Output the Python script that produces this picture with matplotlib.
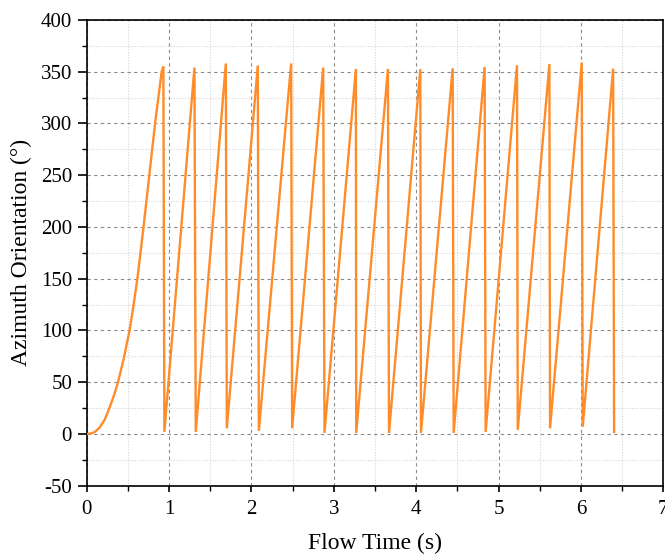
import matplotlib
matplotlib.use("Agg")
import matplotlib.pyplot as plt
from matplotlib.ticker import MultipleLocator

# Initial spin-up curve (time s, azimuth deg)
ramp_t = [0.0, 0.05, 0.10, 0.16, 0.22, 0.28, 0.33, 0.38, 0.45, 0.52, 0.57, 0.615, 0.65, 0.69, 0.76, 0.83, 0.91, 0.931]
ramp_v = [0.0, 0.4, 2.0, 6.5, 14.0, 26.0, 37.0, 50.0, 73.0, 100.0, 125.0, 150.0, 173.0, 200.0, 250.0, 300.0, 350.0, 355.0]

# Sawtooth: resets (after each peak) and following peaks
reset_t = [0.943, 1.324, 1.701, 2.090, 2.494, 2.887, 3.272, 3.670, 4.058, 4.455, 4.843, 5.233, 5.625, 6.022, 6.403]
reset_v = [2.0, 2.0, 5.5, 3.0, 5.5, 1.0, 1.0, 1.0, 1.0, 1.0, 2.0, 4.0, 5.5, 7.0, 2.0]
peak_t = [1.308, 1.689, 2.077, 2.482, 2.871, 3.268, 3.657, 4.050, 4.443, 4.831, 5.224, 5.617, 6.010, 6.391]
peak_v = [354.0, 358.0, 356.0, 358.0, 354.0, 352.7, 352.7, 352.5, 353.3, 354.6, 356.2, 357.5, 359.0, 353.0]

t = list(ramp_t)
v = list(ramp_v)
for i in range(len(reset_t)):
    t.append(reset_t[i]); v.append(reset_v[i])
    if i < len(peak_t):
        t.append(peak_t[i]); v.append(peak_v[i])

plt.rcParams['font.family'] = ['Liberation Serif', 'DejaVu Serif']
plt.rcParams['axes.unicode_minus'] = False

fig = plt.figure(figsize=(6.65, 5.56), dpi=100)
ax = fig.add_axes([86.7/665, 1-485.7/556, (663.3-86.7)/665, (485.7-20)/556])

ax.plot(t, v, color='#FF8C2A', lw=1.7, solid_joinstyle='miter', zorder=3)

ax.set_xlim(0, 7)
ax.set_ylim(-50, 400)
ax.xaxis.set_major_locator(MultipleLocator(1))
ax.xaxis.set_minor_locator(MultipleLocator(0.5))
ax.yaxis.set_major_locator(MultipleLocator(50))
ax.yaxis.set_minor_locator(MultipleLocator(25))

ax.grid(which='major', color='#8a8a8a', linestyle=(0, (3, 3)), linewidth=0.8)
ax.grid(which='minor', color='#d4d4d4', linestyle=(0, (1, 1.5)), linewidth=0.8)
ax.set_axisbelow(True)

for s in ax.spines.values():
    s.set_linewidth(1.2)
    s.set_color('black')

ax.tick_params(axis='y', which='major', direction='out', length=6.5, width=1.2, labelsize=15, pad=4)
ax.tick_params(axis='y', which='minor', direction='out', length=3.6, width=1.0)
ax.tick_params(axis='x', which='major', direction='out', length=4.5, width=1.2, labelsize=15, pad=6)
ax.tick_params(axis='x', which='minor', direction='out', length=3.6, width=1.0)

ax.set_xlabel('Flow Time (s)', fontsize=17, labelpad=10)
ax.set_ylabel('Azimuth Orientation (°)', fontsize=17, labelpad=6)

fig.savefig('out.png', dpi=100)
